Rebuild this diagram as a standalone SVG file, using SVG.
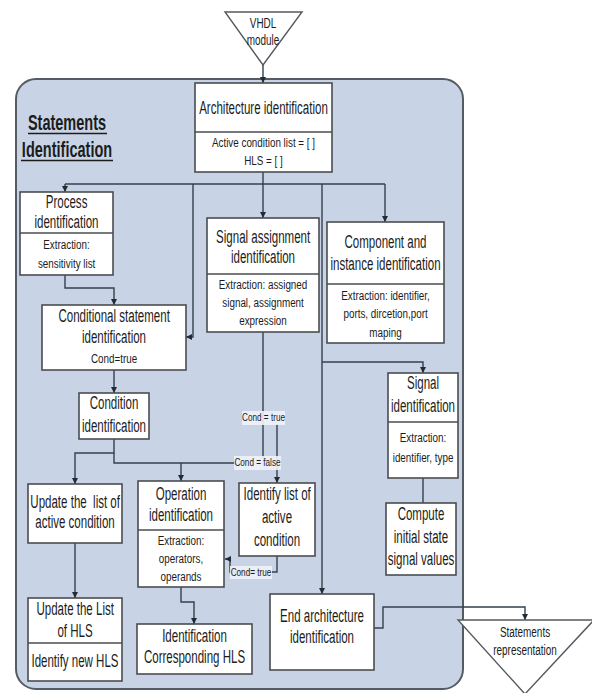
<svg xmlns="http://www.w3.org/2000/svg" width="592" height="693" viewBox="0 0 592 693">
  <style>
    text { font-family: "Liberation Sans", Arial, sans-serif; fill: #1c1c1c; text-anchor: middle;
           transform-box: fill-box; transform-origin: center; }
    .t  { font-size: 18px; transform: scaleX(0.64); }
    .d  { font-size: 13.5px; transform: scaleX(0.73); }
    .s  { font-size: 10px; transform: scaleX(0.82); }
    .v  { font-size: 14px; transform: scaleX(0.71); }
    .hd { font-size: 22px; font-weight: bold; transform: scaleX(0.66); }
    .box { fill: #ffffff; stroke: #4a4d52; stroke-width: 1.6; }
    .div { stroke: #4a4d52; stroke-width: 1.4; }
    .tri { fill: #ffffff; stroke: #55595e; stroke-width: 1.4; }
    .ln  { fill: none; stroke: #34404c; stroke-width: 1.4; }
    .arr { marker-end: url(#ah); }
    .lbl { fill: #eef2f8; fill-opacity: 0.9; }
  </style>
  <defs>
    <marker id="ah" viewBox="0 0 10 10" refX="10" refY="5" markerWidth="6" markerHeight="6" orient="auto" markerUnits="userSpaceOnUse">
      <path d="M0,0 L10,5 L0,10 z" fill="#232b33"/>
    </marker>
  </defs>

  <!-- container panel -->
  <g id="panel">
    <rect x="16" y="79" width="447" height="610" rx="20" fill="#c8d4e5" stroke="#555b62" stroke-width="2"/>
    <text class="hd" x="67" y="130">Statements</text>
    <line x1="28" y1="133.5" x2="107" y2="133.5" stroke="#1c1c1c" stroke-width="1.6"/>
    <text class="hd" x="67" y="157">Identification</text>
    <line x1="21" y1="160.5" x2="113" y2="160.5" stroke="#1c1c1c" stroke-width="1.6"/>
  </g>

  <!-- connectors -->
  <g id="connectors">
    <path class="ln arr" d="M263,65 V83"/>
    <path class="ln" d="M263,172 V184 M65,184 H385"/>
    <path class="ln arr" d="M65,184 V192"/>
    <path class="ln arr" d="M263,184 V218"/>
    <path class="ln arr" d="M385,184 V222"/>
    <path class="ln arr" d="M193,184 V337 H186"/>
    <path class="ln arr" d="M322,184 V594"/>
    <path class="ln arr" d="M322,362 H423 V373"/>
    <path class="ln arr" d="M65,275 V288 H114 V305"/>
    <path class="ln arr" d="M114,370 V393"/>
    <path class="ln arr" d="M114,439 V453 H75 V484"/>
    <path class="ln" d="M114,453 V463 H236"/>
    <path class="ln arr" d="M181,463 V481"/>
    <path class="ln" d="M263,332 V458"/>
    <path class="ln arr" d="M277,424 V483"/>
    <path class="ln" d="M423,478 V503"/>
    <path class="ln arr" d="M277,556 V572 H230 V559 H225"/>
    <path class="ln arr" d="M75,543 V598"/>
    <path class="ln arr" d="M181,587 V602 H194 V624"/>
    <path class="ln arr" d="M374,628 H383 V607 H525 V620"/>
    <!-- condition labels on the branches -->
    <rect class="lbl" x="242" y="411" width="43" height="14"/>
    <text class="s" x="263.5" y="421.5">Cond = true</text>
    <rect class="lbl" x="234" y="456" width="47" height="14"/>
    <text class="s" x="257.5" y="466.5">Cond = false</text>
    <rect class="lbl" x="230" y="566" width="42" height="13"/>
    <text class="s" x="251" y="576">Cond= true</text>
  </g>

  <g id="vhdl-module">
    <polygon class="tri" points="225,12 302,12 263,65"/>
    <text class="v" x="263" y="28">VHDL</text>
    <text class="v" x="263" y="45">module</text>
  </g>

  <g id="architecture">
    <rect class="box" x="195" y="83" width="137" height="89"/>
    <line class="div" x1="195" y1="132" x2="332" y2="132"/>
    <text class="t" x="263.5" y="114">Architecture identification</text>
    <text class="d" x="263.5" y="147">Active condition list = [ ]</text>
    <text class="d" x="263.5" y="165">HLS = [ ]</text>
  </g>

  <g id="process">
    <rect class="box" x="20" y="192" width="93" height="83"/>
    <line class="div" x1="20" y1="233" x2="113" y2="233"/>
    <text class="t" x="66.5" y="208">Process</text>
    <text class="t" x="66.5" y="228">identification</text>
    <text class="d" x="66.5" y="249">Extraction:</text>
    <text class="d" x="66.5" y="268">sensitivity list</text>
  </g>

  <g id="conditional-statement">
    <rect class="box" x="42" y="305" width="144" height="65"/>
    <text class="t" x="114" y="322">Conditional statement</text>
    <text class="t" x="114" y="343">identification</text>
    <text class="d" x="114" y="363">Cond=true</text>
  </g>

  <g id="signal-assignment">
    <rect class="box" x="207" y="218" width="112" height="114"/>
    <line class="div" x1="207" y1="274" x2="319" y2="274"/>
    <text class="t" x="263" y="243">Signal assignment</text>
    <text class="t" x="263" y="263">identification</text>
    <text class="d" x="263" y="289">Extraction: assigned</text>
    <text class="d" x="263" y="307">signal, assignment</text>
    <text class="d" x="263" y="325">expression</text>
  </g>

  <g id="component-instance">
    <rect class="box" x="327" y="222" width="117" height="121"/>
    <line class="div" x1="327" y1="284" x2="444" y2="284"/>
    <text class="t" x="385.5" y="248">Component and</text>
    <text class="t" x="385.5" y="270">instance identification</text>
    <text class="d" x="385.5" y="300">Extraction: identifier,</text>
    <text class="d" x="385.5" y="318">ports, dircetion,port</text>
    <text class="d" x="385.5" y="337">maping</text>
  </g>

  <g id="signal-identification">
    <rect class="box" x="388" y="373" width="70" height="105"/>
    <line class="div" x1="388" y1="422" x2="458" y2="422"/>
    <text class="t" x="423" y="389">Signal</text>
    <text class="t" x="423" y="412">identification</text>
    <text class="d" x="423" y="442">Extraction:</text>
    <text class="d" x="423" y="462">identifier, type</text>
  </g>

  <g id="compute-initial-state">
    <rect class="box" x="386" y="503" width="70" height="72"/>
    <text class="t" x="421" y="520">Compute</text>
    <text class="t" x="421" y="543">initial state</text>
    <text class="t" x="421" y="565">signal values</text>
  </g>

  <g id="condition-identification">
    <rect class="box" x="79" y="393" width="70" height="46"/>
    <text class="t" x="114" y="409">Condition</text>
    <text class="t" x="114" y="432">identification</text>
  </g>

  <g id="update-active-condition">
    <rect class="box" x="28" y="484" width="94" height="59"/>
    <text class="t" x="75" y="508">Update the&#160; list of</text>
    <text class="t" x="75" y="528">active condition</text>
  </g>

  <g id="operation-identification">
    <rect class="box" x="138" y="481" width="86" height="106"/>
    <line class="div" x1="138" y1="530" x2="224" y2="530"/>
    <text class="t" x="181" y="500">Operation</text>
    <text class="t" x="181" y="521">identification</text>
    <text class="d" x="181" y="545">Extraction:</text>
    <text class="d" x="181" y="563">operators,</text>
    <text class="d" x="181" y="581">operands</text>
  </g>

  <g id="identify-active-conditions">
    <rect class="box" x="239" y="483" width="76" height="73"/>
    <text class="t" x="277" y="500">Identify list of</text>
    <text class="t" x="277" y="523">active</text>
    <text class="t" x="277" y="546">condition</text>
  </g>

  <g id="update-hls">
    <rect class="box" x="28" y="598" width="94" height="83"/>
    <line class="div" x1="28" y1="643" x2="122" y2="643"/>
    <text class="t" x="75" y="615">Update the List</text>
    <text class="t" x="75" y="637">of HLS</text>
    <text class="t" x="75" y="667">Identify new HLS</text>
  </g>

  <g id="corresponding-hls">
    <rect class="box" x="137" y="624" width="115" height="50"/>
    <text class="t" x="194.5" y="642">Identification</text>
    <text class="t" x="194.5" y="663">Corresponding HLS</text>
  </g>

  <g id="end-architecture">
    <rect class="box" x="270" y="594" width="104" height="76"/>
    <text class="t" x="322" y="622">End architecture</text>
    <text class="t" x="322" y="643">identification</text>
  </g>

  <g id="statements-representation">
    <polygon class="tri" points="458,620 594,620 525,694"/>
    <text class="v" x="525" y="637">Statements</text>
    <text class="v" x="525" y="655">representation</text>
  </g>
</svg>
